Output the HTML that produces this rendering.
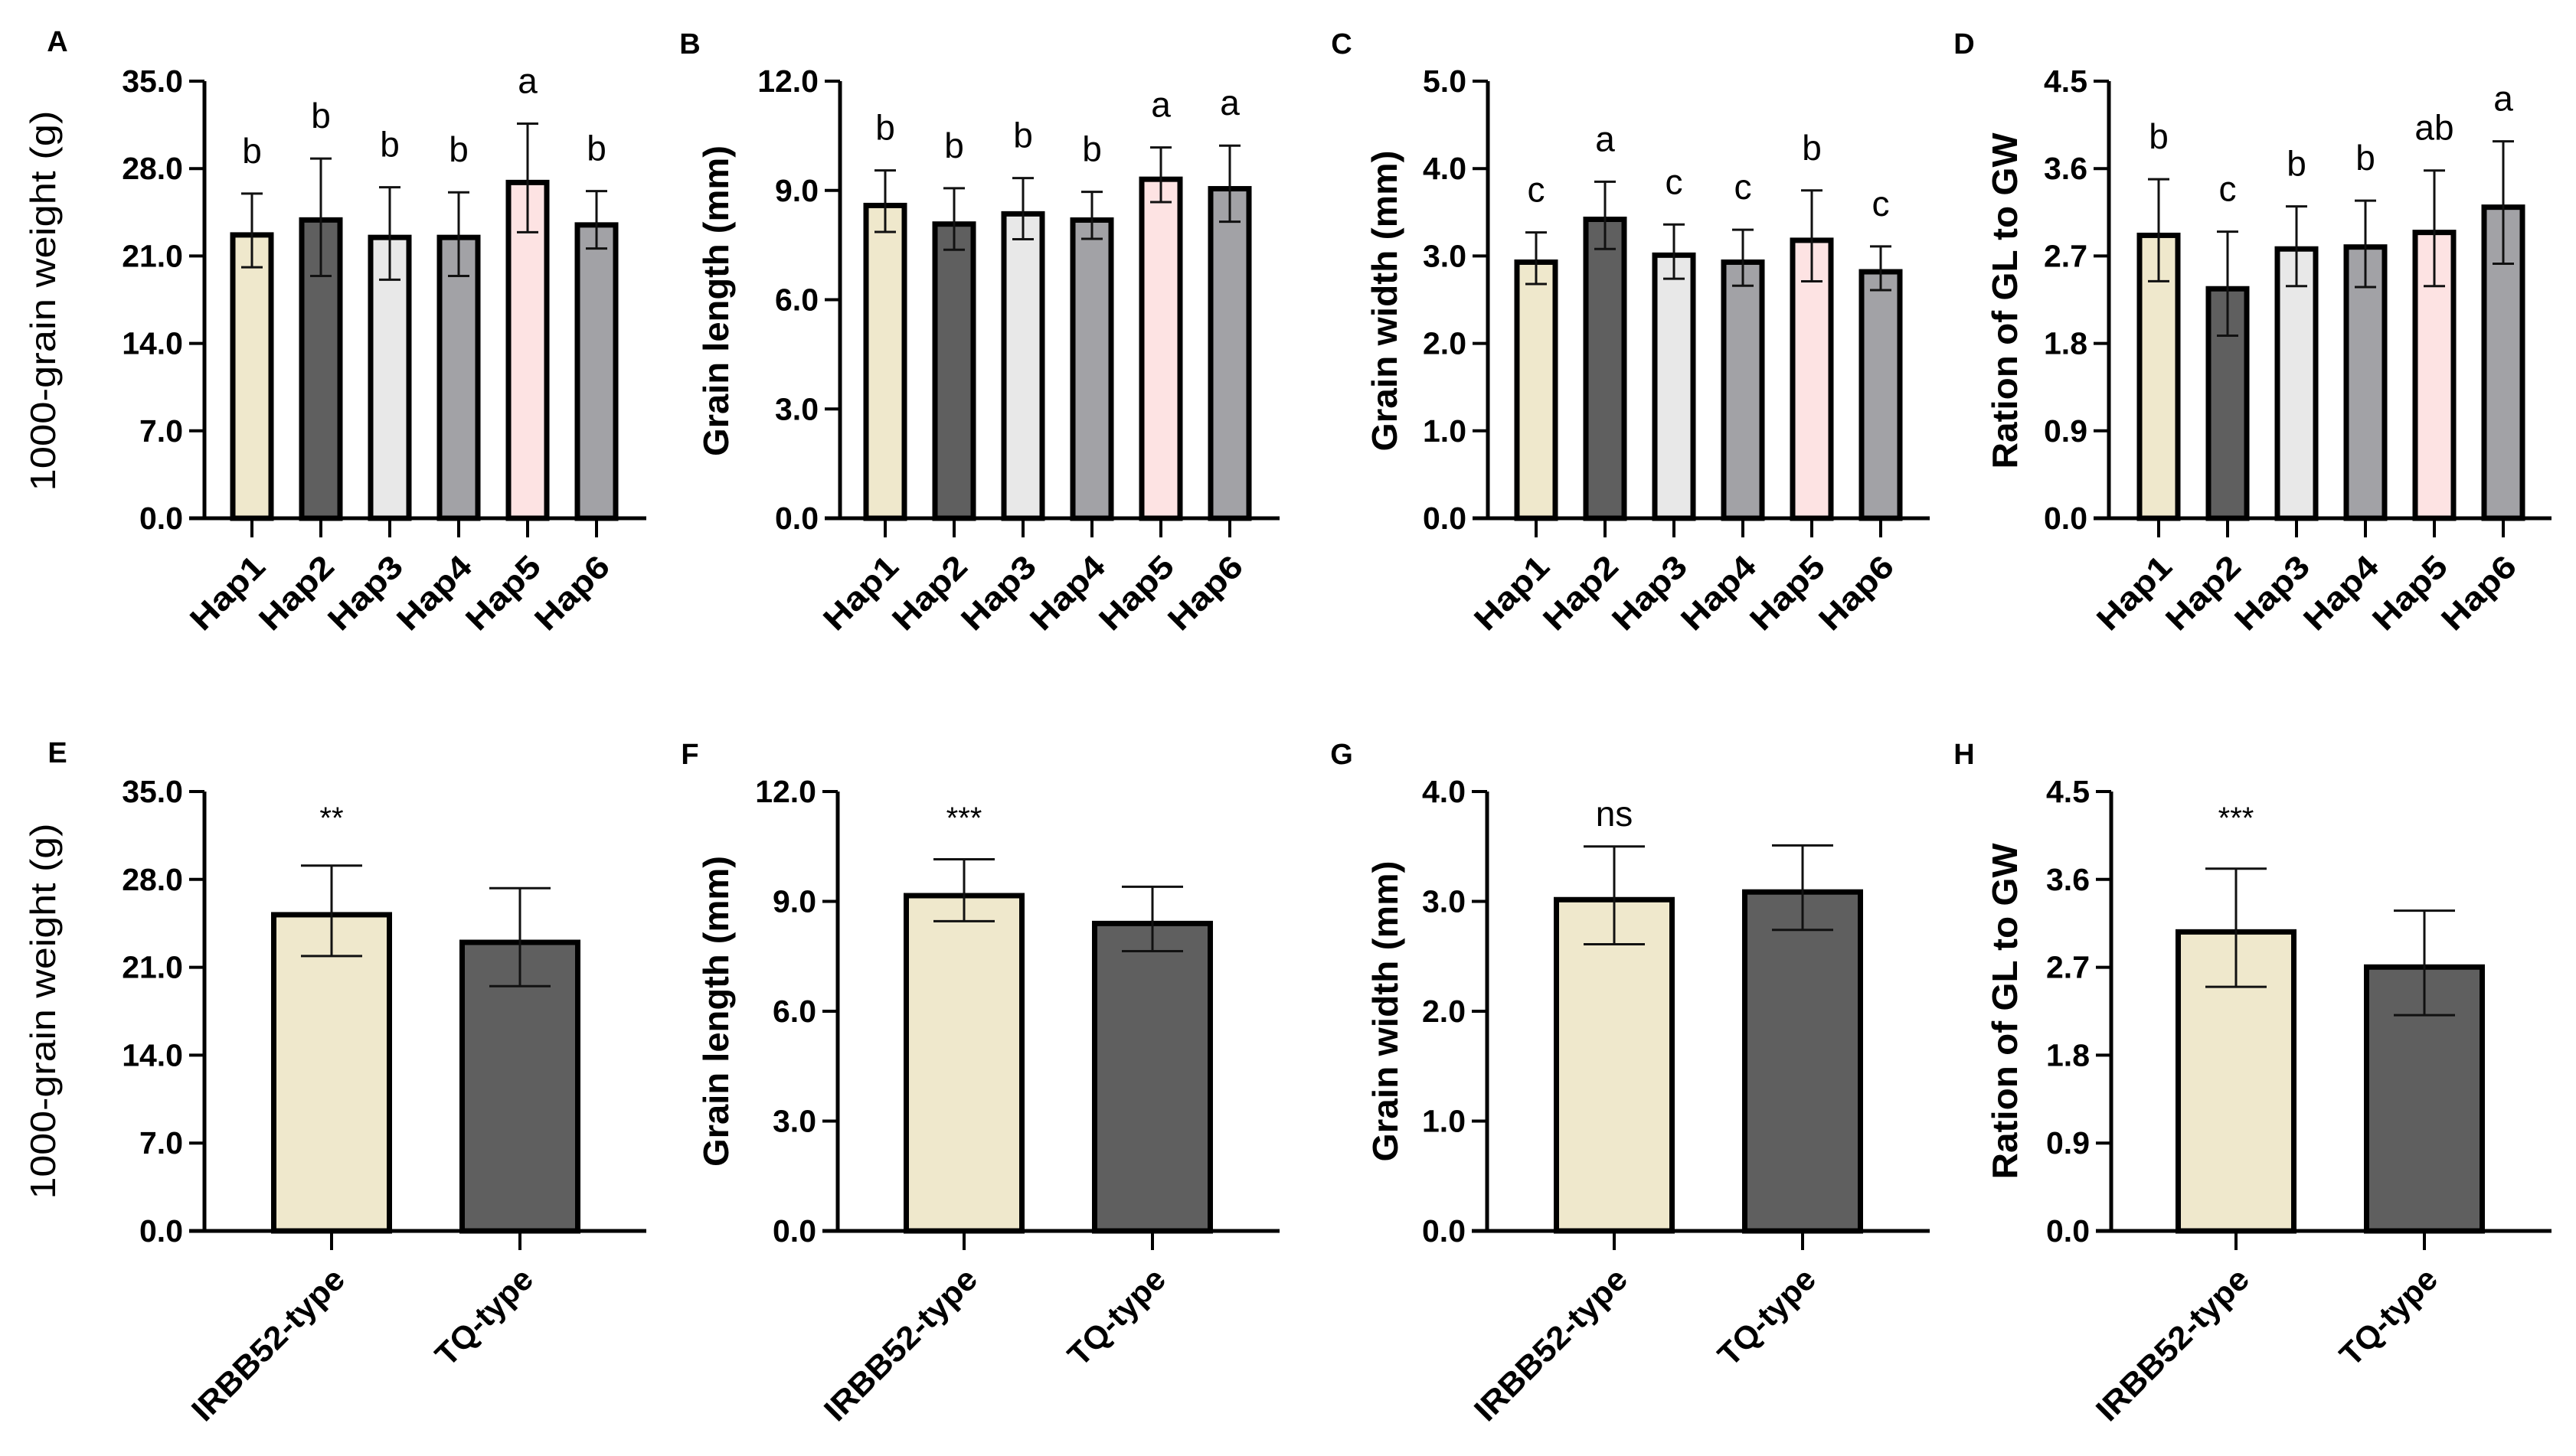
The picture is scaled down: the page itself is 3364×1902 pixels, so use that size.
<!DOCTYPE html>
<html><head><meta charset="utf-8"><style>
html,body{margin:0;padding:0;background:#fff;}
svg{display:block;}
text{font-family:"Liberation Sans",Arial,sans-serif;fill:#000;}
</style></head><body>
<svg id="fig" xmlns="http://www.w3.org/2000/svg" width="3364" height="1902" viewBox="0 0 3364 1902"></svg>
<script>
// ---- Data ----
const hapCats = ["Hap1","Hap2","Hap3","Hap4","Hap5","Hap6"];
const typeCats = ["IRBB52-type","TQ-type"];
const hapColors = ["#efe8cc","#5f5f5f","#e8e8e8","#a2a2a6","#fde3e3","#a2a2a6"];
const typeColors = ["#efe8cc","#5f5f5f"];

const aMean = [22.9,24.1,22.7,22.7,27.1,23.7];
const aHi   = [26.0,28.8,26.5,26.1,31.6,26.2];
const aLo   = [20.1,19.4,19.1,19.4,22.9,21.6];
const aSig  = ["b","b","b","b","a","b"];

const bMean = [8.66,8.15,8.43,8.26,9.38,9.12];
const bHi   = [9.55,9.06,9.34,8.96,10.18,10.23];
const bLo   = [7.86,7.37,7.66,7.67,8.68,8.14];
const bSig  = ["b","b","b","b","a","a"];

const cMean = [2.96,3.45,3.04,2.96,3.21,2.85];
const cHi   = [3.27,3.85,3.36,3.30,3.75,3.11];
const cLo   = [2.68,3.08,2.74,2.66,2.71,2.61];
const cSig  = ["c","a","c","c","b","c"];

const dMean = [2.94,2.39,2.80,2.82,2.97,3.23];
const dHi   = [3.49,2.95,3.21,3.27,3.58,3.88];
const dLo   = [2.44,1.88,2.39,2.38,2.39,2.62];
const dSig  = ["b","c","b","b","ab","a"];

const eMean = [25.4,23.2]; const eHi = [29.1,27.3]; const eLo = [21.9,19.5]; const eSig = ["**",""];
const fMean = [9.23,8.47]; const fHi = [10.15,9.40]; const fLo = [8.46,7.64]; const fSig = ["***",""];
const gMean = [3.04,3.11]; const gHi = [3.50,3.51]; const gLo = [2.61,2.74]; const gSig = ["ns",""];
const hMean = [3.09,2.73]; const hHi = [3.71,3.28]; const hLo = [2.50,2.21]; const hSig = ["***",""];

const ticksA = ["0.0","7.0","14.0","21.0","28.0","35.0"];
const ticksB = ["0.0","3.0","6.0","9.0","12.0"];
const ticksC = ["0.0","1.0","2.0","3.0","4.0","5.0"];
const ticksD = ["0.0","0.9","1.8","2.7","3.6","4.5"];
const ticksG = ["0.0","1.0","2.0","3.0","4.0"];

// ---- Drawing ----
const NS = "http://www.w3.org/2000/svg";
const svg = document.getElementById("fig");
function mk(tag, attrs, parent){
  const e = document.createElementNS(NS, tag);
  for (const k in attrs) e.setAttribute(k, attrs[k]);
  (parent||svg).appendChild(e);
  return e;
}

function panel(p){
  const g = mk("g", {});
  
  
  const yMax = parseFloat(p.ticks[p.ticks.length-1]);
  const y = v => p.zero - (v / yMax) * (p.zero - p.top);
  const x = i => p.x0 + i * p.step;

  const L = mk("text", {x:p.lx, y:p.ly, "font-size":38, "font-weight":"bold", "text-anchor":"middle", "dominant-baseline":"middle"}, g);
  L.textContent = p.letter;
  
  

  const T = mk("text", {x:0, y:0, "font-size":46, "font-weight":p.titleBold?"bold":"normal", "text-anchor":"middle", "dominant-baseline":"middle", textLength:p.titleLen, lengthAdjust:"spacingAndGlyphs", transform:`translate(${p.tx},${p.ty}) rotate(-90)`}, g);
  T.textContent = p.title;
  
  

  p.mean.forEach((m, i) => {
    const cx = x(i), w = p.bw, sw = 7;
    const r = mk("rect", {x:cx - w/2 + sw/2, y:y(m) + sw/2, width:w - sw, height:p.zero - y(m) - sw/2, fill:p.colors[i], stroke:"#000", "stroke-width":sw}, g);
    
    
    const eb = mk("path", {d:`M${cx},${y(p.hi[i])}V${y(p.lo[i])}M${cx-p.cap},${y(p.hi[i])}H${cx+p.cap}M${cx-p.cap},${y(p.lo[i])}H${cx+p.cap}`, stroke:"#111", "stroke-width":3, fill:"none"}, g);
    
    
    if (p.sig[i]) {
      const isStar = p.sig[i].indexOf("*") >= 0;
      const s = mk("text", {x:cx, y: isStar ? p.top + 48 : (p.sig[i]==="ns" ? p.top + 45 : y(p.hi[i]) - 40), "font-size": isStar ? 40 : 46, "text-anchor":"middle"}, g);
      s.textContent = p.sig[i];
      
      
    }
    const tk = mk("line", {x1:cx, y1:p.zero, x2:cx, y2:p.zero + 25, stroke:"#000", "stroke-width":4}, g);
    
    
    const lab = mk("text", {x:0, y:0, "font-size":42, "font-weight":"bold", "text-anchor":"end", "dominant-baseline":"middle", textLength:p.labLen[i], lengthAdjust:"spacingAndGlyphs", transform:`translate(${cx+12},${p.zero+58}) rotate(-45)`}, g);
    lab.textContent = p.cats[i];
    
    
  });

  const ax = mk("path", {d:`M${p.ax},${p.top}V${p.zero}M${p.ax-20},${p.zero}H${p.xEnd}`, stroke:"#000", "stroke-width":5, fill:"none"}, g);
  
  
  p.ticks.forEach(t => {
    const ty = y(parseFloat(t));
    const l = mk("line", {x1:p.ax-20, y1:ty, x2:p.ax, y2:ty, stroke:"#000", "stroke-width":4}, g);
    
    
    const tt = mk("text", {x:p.ax - 28, y:ty, "font-size":41, "font-weight":"bold", "text-anchor":"end", "dominant-baseline":"central"}, g);
    tt.textContent = t;
    
    
  });
}

const hapLen = [118,118,118,118,118,118];
const typeLen = [262,160];
const topCfg = {cats:hapCats, colors:hapColors, top:106, zero:677, step:90, bw:57, cap:14, labLen:hapLen, ty:393};
const botCfg = {cats:typeCats, colors:typeColors, top:1034, zero:1608, step:246, bw:158, cap:40, labLen:typeLen, ty:1321};

panel(Object.assign({}, topCfg, {letter:"A", lx:75, ly:57, ax:267, x0:329, xEnd:844, ticks:ticksA, mean:aMean, hi:aHi, lo:aLo, sig:aSig, title:"1000-grain weight (g)", titleBold:false, titleLen:497, tx:60}));
panel(Object.assign({}, topCfg, {letter:"B", lx:901, ly:60, ax:1097, x0:1156, xEnd:1671, ticks:ticksB, mean:bMean, hi:bHi, lo:bLo, sig:bSig, title:"Grain length (mm)", titleBold:true, titleLen:406, tx:939}));
panel(Object.assign({}, topCfg, {letter:"C", lx:1752, ly:60, ax:1943, x0:2006, xEnd:2520, ticks:ticksC, mean:cMean, hi:cHi, lo:cLo, sig:cSig, title:"Grain width (mm)", titleBold:true, titleLen:393, tx:1812}));
panel(Object.assign({}, topCfg, {letter:"D", lx:2565, ly:60, ax:2754, x0:2819, xEnd:3332, ticks:ticksD, mean:dMean, hi:dHi, lo:dLo, sig:dSig, title:"Ration of GL to GW", titleBold:true, titleLen:439, tx:2622}));

panel(Object.assign({}, botCfg, {letter:"E", lx:75, ly:986, ax:267, x0:433, xEnd:844, ticks:ticksA, mean:eMean, hi:eHi, lo:eLo, sig:eSig, title:"1000-grain weight (g)", titleBold:false, titleLen:491, tx:60}));
panel(Object.assign({}, botCfg, {letter:"F", lx:901, ly:988, ax:1094, x0:1259, xEnd:1671, ticks:ticksB, mean:fMean, hi:fHi, lo:fLo, sig:fSig, title:"Grain length (mm)", titleBold:true, titleLen:406, tx:939}));
panel(Object.assign({}, botCfg, {letter:"G", lx:1752, ly:988, ax:1942, x0:2108, xEnd:2520, ticks:ticksG, mean:gMean, hi:gHi, lo:gLo, sig:gSig, title:"Grain width (mm)", titleBold:true, titleLen:393, tx:1813}));
panel(Object.assign({}, botCfg, {letter:"H", lx:2565, ly:988, ax:2757, x0:2920, xEnd:3332, ticks:ticksD, mean:hMean, hi:hHi, lo:hLo, sig:hSig, title:"Ration of GL to GW", titleBold:true, titleLen:439, tx:2622}));
</script>
</body></html>
